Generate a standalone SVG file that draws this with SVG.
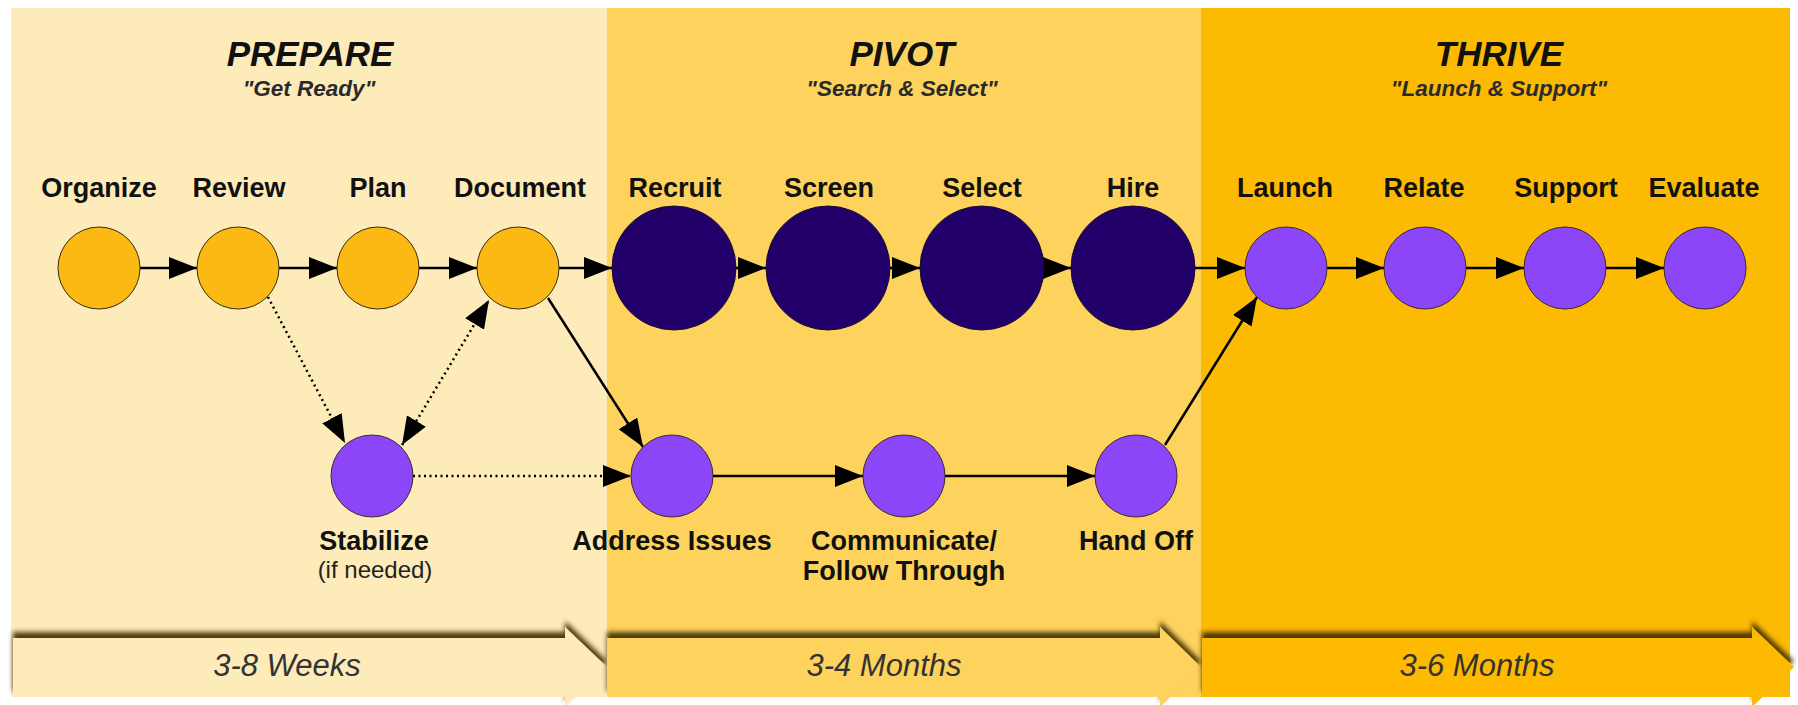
<svg xmlns="http://www.w3.org/2000/svg" width="1798" height="705" viewBox="0 0 1798 705">
  <defs>
    <marker id="ah" markerWidth="28" markerHeight="22" refX="28" refY="11" orient="auto" markerUnits="userSpaceOnUse">
      <path d="M0,0 L28,11 L0,22 Z" fill="#000"/>
    </marker>
    <marker id="ahs" markerWidth="28" markerHeight="22" refX="0" refY="11" orient="auto" markerUnits="userSpaceOnUse">
      <path d="M28,0 L0,11 L28,22 Z" fill="#000"/>
    </marker>
    <filter id="shadow" x="-5%" y="-40%" width="110%" height="180%">
      <feDropShadow dx="0" dy="-6" stdDeviation="2.5" flood-color="#3a2a05" flood-opacity="0.9"/>
    </filter>
    <style>
      .title { font-family: "Liberation Sans", Arial, sans-serif; font-weight: bold; font-style: italic; font-size: 35px; fill: #111; text-anchor: middle; }
      .sub { font-family: "Liberation Sans", Arial, sans-serif; font-weight: bold; font-style: italic; font-size: 22.5px; fill: #2a2a2a; text-anchor: middle; }
      .lbl { font-family: "Liberation Sans", Arial, sans-serif; font-weight: bold; font-size: 27px; fill: #111; text-anchor: middle; }
      .note { font-family: "Liberation Sans", Arial, sans-serif; font-size: 24px; fill: #222; text-anchor: middle; }
      .dur { font-family: "Liberation Sans", Arial, sans-serif; font-style: italic; font-size: 31px; fill: #333; text-anchor: middle; }
      .orange { fill: #FDB913; stroke: #3a2a10; stroke-width: 1; }
      .dark { fill: #22006A; stroke: #1a0a30; stroke-width: 1; }
      .purple { fill: #8C46F8; stroke: #3a2a30; stroke-width: 1; }
      .solid { stroke: #000; stroke-width: 2.5; fill: none; marker-end: url(#ah); }
      .dot { stroke: #000; stroke-width: 2.5; fill: none; stroke-dasharray: 2 3.5; marker-end: url(#ah); }
    </style>
  </defs>

  <rect x="0" y="0" width="1798" height="705" fill="#fff"/>

  <g id="panels">
    <rect x="11" y="8" width="596" height="689" fill="#FDEBB9"/>
    <rect x="607" y="8" width="594" height="689" fill="#FDD35D"/>
    <rect x="1201" y="8" width="589" height="689" fill="#FDBA03"/>
  </g>

  <g id="timeline">
    <path d="M13,638 L565,638 L565,627 L607,667 L565,707 L565,697 L13,697 Z" fill="#FDEBB9" filter="url(#shadow)"/>
    <path d="M607,638 L1160,638 L1160,627 L1201,667 L1160,707 L1160,697 L607,697 Z" fill="#FDD35D" filter="url(#shadow)"/>
    <path d="M1202,638 L1752,638 L1752,627 L1794,667 L1752,707 L1752,697 L1202,697 Z" fill="#FDBA03" filter="url(#shadow)"/>
    <text class="dur" x="287" y="676">3-8 Weeks</text>
    <text class="dur" x="884" y="676">3-4 Months</text>
    <text class="dur" x="1477" y="676">3-6 Months</text>
  </g>

  <g id="titles">
    <text class="title" x="310" y="66">PREPARE</text>
    <text class="sub" x="309" y="96">"Get Ready"</text>
    <text class="title" x="902" y="66">PIVOT</text>
    <text class="sub" x="902" y="96">"Search &amp; Select"</text>
    <text class="title" x="1499" y="66">THRIVE</text>
    <text class="sub" x="1499" y="96">"Launch &amp; Support"</text>
  </g>

  <g id="connectors">
    <line class="solid" x1="140" y1="268" x2="197" y2="268"/>
    <line class="solid" x1="279" y1="268" x2="337" y2="268"/>
    <line class="solid" x1="419" y1="268" x2="477" y2="268"/>
    <line class="solid" x1="559" y1="268" x2="612" y2="268"/>
    <line class="solid" x1="736" y1="268" x2="766" y2="268"/>
    <line class="solid" x1="890" y1="268" x2="920" y2="268"/>
    <line class="solid" x1="1044" y1="268" x2="1071" y2="268"/>
    <line class="solid" x1="1195" y1="268" x2="1245" y2="268"/>
    <line class="solid" x1="1327" y1="268" x2="1384" y2="268"/>
    <line class="solid" x1="1466" y1="268" x2="1524" y2="268"/>
    <line class="solid" x1="1606" y1="268" x2="1664" y2="268"/>
    <line class="solid" x1="713" y1="476" x2="863" y2="476"/>
    <line class="solid" x1="945" y1="476" x2="1095" y2="476"/>
    <line class="solid" x1="548" y1="298" x2="643" y2="447"/>
    <line class="solid" x1="1165" y1="445" x2="1257" y2="297"/>
    <line class="dot" x1="268" y1="297" x2="345" y2="443"/>
    <line class="dot" x1="402" y1="445" x2="489" y2="300" style="marker-start: url(#ahs)"/>
    <line class="dot" x1="413" y1="476" x2="631" y2="476"/>
  </g>

  <g id="n-organize"><circle class="orange" cx="99" cy="268" r="41"/><text class="lbl" x="99" y="197">Organize</text></g>
  <g id="n-review"><circle class="orange" cx="238" cy="268" r="41"/><text class="lbl" x="239" y="197">Review</text></g>
  <g id="n-plan"><circle class="orange" cx="378" cy="268" r="41"/><text class="lbl" x="378" y="197">Plan</text></g>
  <g id="n-document"><circle class="orange" cx="518" cy="268" r="41"/><text class="lbl" x="520" y="197">Document</text></g>
  <g id="n-recruit"><circle class="dark" cx="674" cy="268" r="62"/><text class="lbl" x="675" y="197">Recruit</text></g>
  <g id="n-screen"><circle class="dark" cx="828" cy="268" r="62"/><text class="lbl" x="829" y="197">Screen</text></g>
  <g id="n-select"><circle class="dark" cx="982" cy="268" r="62"/><text class="lbl" x="982" y="197">Select</text></g>
  <g id="n-hire"><circle class="dark" cx="1133" cy="268" r="62"/><text class="lbl" x="1133" y="197">Hire</text></g>
  <g id="n-launch"><circle class="purple" cx="1286" cy="268" r="41"/><text class="lbl" x="1285" y="197">Launch</text></g>
  <g id="n-relate"><circle class="purple" cx="1425" cy="268" r="41"/><text class="lbl" x="1424" y="197">Relate</text></g>
  <g id="n-support"><circle class="purple" cx="1565" cy="268" r="41"/><text class="lbl" x="1566" y="197">Support</text></g>
  <g id="n-evaluate"><circle class="purple" cx="1705" cy="268" r="41"/><text class="lbl" x="1704" y="197">Evaluate</text></g>
  <g id="n-stabilize"><circle class="purple" cx="372" cy="476" r="41"/><text class="lbl" x="374" y="550">Stabilize</text><text class="note" x="375" y="578">(if needed)</text></g>
  <g id="n-address"><circle class="purple" cx="672" cy="476" r="41"/><text class="lbl" x="672" y="550">Address Issues</text></g>
  <g id="n-communicate"><circle class="purple" cx="904" cy="476" r="41"/><text class="lbl" x="904" y="550">Communicate/</text><text class="lbl" x="904" y="580">Follow Through</text></g>
  <g id="n-handoff"><circle class="purple" cx="1136" cy="476" r="41"/><text class="lbl" x="1136" y="550">Hand Off</text></g>
</svg>
